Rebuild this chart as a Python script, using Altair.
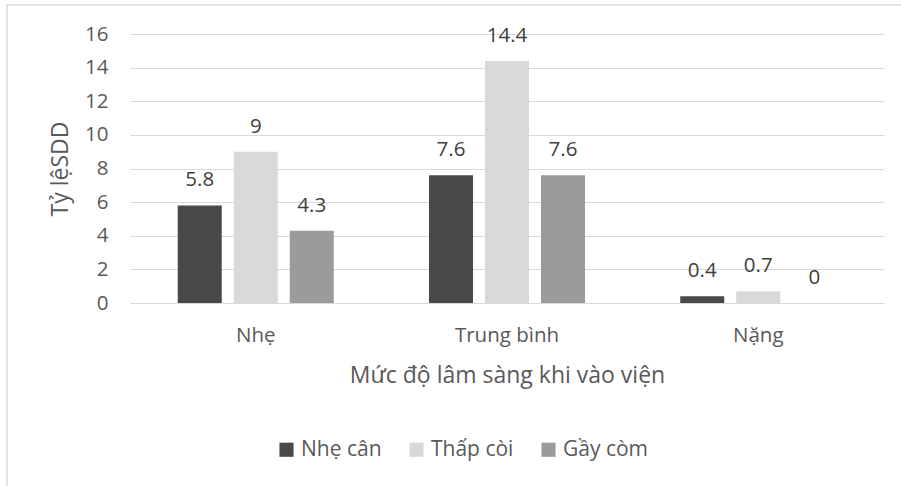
import altair as alt
import pandas as pd

# Clinical severity groups on admission and the three malnutrition indicators
categories = ["Nhẹ", "Trung bình", "Nặng"]
series = ["Nhẹ cân", "Thấp còi", "Gầy còm"]
nhe_can = [5.8, 7.6, 0.4]
thap_coi = [9, 14.4, 0.7]
gay_com = [4.3, 7.6, 0]
y_ticks = [0, 2, 4, 6, 8, 10, 12, 14, 16]
colors = ["#494949", "#d9d9d9", "#9b9b9b"]

rows = []
for name, values in zip(series, [nhe_can, thap_coi, gay_com]):
    for cat, v in zip(categories, values):
        rows.append({"muc_do": cat, "nhom": name, "ty_le": v})
df = pd.DataFrame(rows)

FONT = "Open Sans"
TEXT = "#595959"

x_enc = alt.X(
    "muc_do:N",
    sort=categories,
    scale=alt.Scale(paddingInner=0.379, paddingOuter=0.19),
    axis=alt.Axis(
        title="Mức độ lâm sàng khi vào viện",
        labelAngle=0,
        labelPadding=22,
        domain=False,
        ticks=False,
        titleY=79,
        titleBaseline="alphabetic",
        titleFontWeight="normal",
    ),
)
xoff_enc = alt.XOffset(
    "nhom:N", sort=series, scale=alt.Scale(paddingInner=0.214, paddingOuter=0)
)
y_enc = alt.Y(
    "ty_le:Q",
    scale=alt.Scale(domain=[0, 16], nice=False),
    axis=alt.Axis(
        title="Tỷ lệSDD",
        values=y_ticks,
        tickCount=9,
        labelOverlap=False,
        domain=False,
        ticks=False,
        labelPadding=22,
        gridColor="#d9d9d9",
        titleAngle=270,
        titleX=-70,
        titleY=134.5,
        titleBaseline="middle",
        titleAlign="center",
        titleFontWeight="normal",
    ),
)
color_enc = alt.Color(
    "nhom:N",
    sort=series,
    scale=alt.Scale(domain=series, range=colors),
    legend=alt.Legend(
        title=None,
        orient="none",
        direction="horizontal",
        legendX=146,
        legendY=405,
        symbolType="square",
        symbolSize=200,
        symbolStrokeWidth=0,
        columnPadding=24,
        labelOffset=4,
    ),
)

bars = alt.Chart(df).mark_bar().encode(
    x=x_enc, xOffset=xoff_enc, y=y_enc, color=color_enc
)

labels = alt.Chart(df).mark_text(
    dy=-19, baseline="alphabetic", fontSize=20.5, font=FONT, color="#404040"
).encode(
    x=x_enc,
    xOffset=xoff_enc,
    y=y_enc,
    text="ty_le:Q",
)

# Light outer frame around the whole chart
frame = alt.Chart(pd.DataFrame({"k": [0]})).mark_rect(
    fill=None, stroke="#d9d9d9", strokeWidth=1.5, clip=False
).encode(
    x=alt.value(-123), x2=alt.value(790), y=alt.value(-29), y2=alt.value(480)
)

chart = (
    alt.layer(frame, bars, labels)
    .properties(
        width=754,
        height=269,
        padding={"left": 130, "top": 34, "right": 17, "bottom": 183},
        autosize=alt.AutoSizeParams(type="none"),
        background="white",
    )
    .configure_view(stroke=None)
    .configure_axis(
        labelFont=FONT,
        titleFont=FONT,
        labelFontSize=20.5,
        titleFontSize=23,
        labelColor=TEXT,
        titleColor=TEXT,
    )
    .configure_legend(labelFont=FONT, labelFontSize=21, labelColor=TEXT)
)

chart.save("out.html", embed_options={"renderer": "svg", "actions": False})
